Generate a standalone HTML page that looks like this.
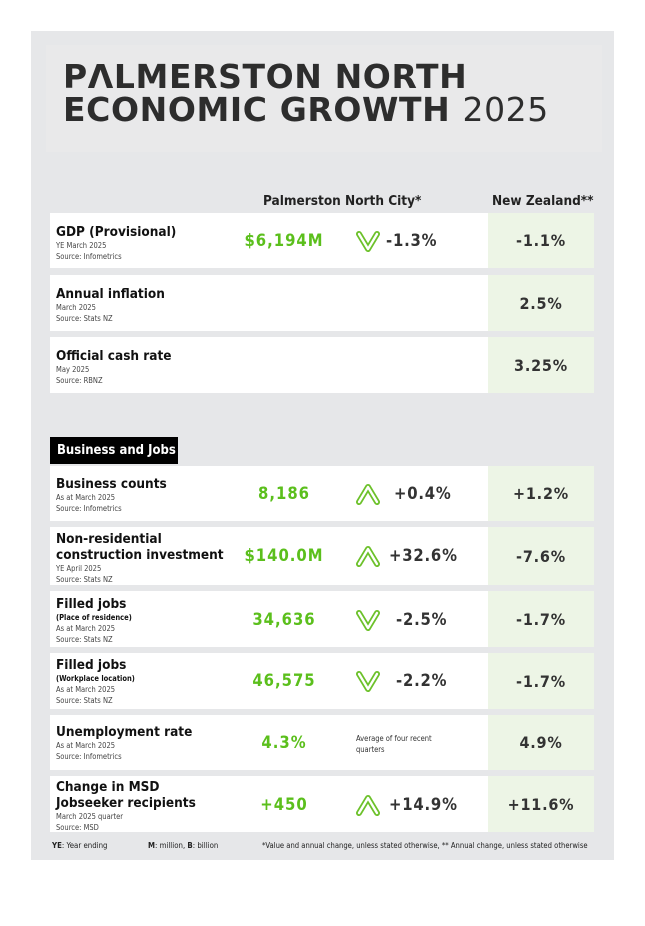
<!DOCTYPE html>
<html><head><meta charset="utf-8"><style>
*{margin:0;padding:0;box-sizing:border-box}
body{width:645px;height:926px;background:#fff;font-family:"DejaVu Sans Condensed","Liberation Sans",sans-serif;position:relative;overflow:hidden;color:#222}
.panel{position:absolute;left:31px;top:31px;width:583px;height:829px;background:#e6e7e9}
.hdr{position:absolute;left:46px;top:45px;width:556px;height:107px;background:#e9e9ea}
.t{position:absolute;left:63px;font-family:"DejaVu Sans","Liberation Sans",sans-serif;font-weight:bold;font-size:33px;color:#2d2d2d;letter-spacing:0.6px;line-height:34px;white-space:nowrap}
.abs{position:absolute}
.row{position:absolute;left:50px;width:438px;background:#fff}
.nz{position:absolute;left:488px;width:106px;background:#edf5e6;display:flex;align-items:center;justify-content:center;font-weight:bold;font-size:16px;color:#333;letter-spacing:0.8px}
.lbl{position:absolute;left:56px;font-size:13.5px;font-weight:bold;color:#111;line-height:16px}
.sm{font-size:7.5px;font-weight:normal;color:#444;line-height:11px;letter-spacing:0}
.val{position:absolute;width:140px;left:214px;text-align:center;color:#5bbf1c;font-weight:bold;font-size:16.5px;letter-spacing:1px}
.chg{position:absolute;font-weight:bold;font-size:16.5px;color:#333;letter-spacing:0.8px}
svg.ic{position:absolute;width:26px;height:26px}
</style></head><body>
<div class="panel"></div>
<div class="hdr"></div>
<div class="t" style="top:60px">P&Lambda;LMERSTON NORTH</div>
<div class="t" style="top:93px">ECONOMIC GROWTH <span style="font-weight:normal">2025</span></div>

<div class="abs" style="left:263px;top:193px;font-size:13.5px;font-weight:bold">Palmerston North City*</div>
<div class="abs" style="left:492px;top:193px;font-size:13.5px;font-weight:bold">New Zealand**</div>

<div class="row" style="top:213px;height:55px"></div><div class="nz" style="top:213px;height:55px">-1.1%</div>
<div class="lbl" style="top:224px">GDP (Provisional)<div class="sm">YE March 2025<br>Source: Infometrics</div></div>
<div class="val" style="top:231px">$6,194M</div>
<svg class="ic" style="left:355px;top:228px" viewBox="0 0 26 26"><path d="M4 6 L13 21 L22 6" fill="none" stroke="#6cc12a" stroke-width="6" stroke-linecap="round" stroke-linejoin="round"/><path d="M4 6 L13 21 L22 6" fill="none" stroke="#fff" stroke-width="2.4" stroke-linecap="round" stroke-linejoin="round"/></svg>
<div class="chg" style="left:386px;top:231px">-1.3%</div>

<div class="row" style="top:275px;height:56px"></div><div class="nz" style="top:275px;height:56px">2.5%</div>
<div class="lbl" style="top:286px">Annual inflation<div class="sm">March 2025<br>Source: Stats NZ</div></div>

<div class="row" style="top:337px;height:56px"></div><div class="nz" style="top:337px;height:56px">3.25%</div>
<div class="lbl" style="top:348px">Official cash rate<div class="sm">May 2025<br>Source: RBNZ</div></div>

<div class="abs" style="left:50px;top:437px;width:128px;height:27px;background:#000;color:#fff;font-size:13px;font-weight:bold;padding:6px 0 0 7px;white-space:nowrap">Business and Jobs</div>

<div class="row" style="top:466px;height:55px"></div><div class="nz" style="top:466px;height:55px">+1.2%</div>
<div class="lbl" style="top:476px">Business counts<div class="sm">As at March 2025<br>Source: Infometrics</div></div>
<div class="val" style="top:484px">8,186</div>
<svg class="ic" style="left:355px;top:481px" viewBox="0 0 26 26"><path d="M4 21 L13 6 L22 21" fill="none" stroke="#6cc12a" stroke-width="6" stroke-linecap="round" stroke-linejoin="round"/><path d="M4 21 L13 6 L22 21" fill="none" stroke="#fff" stroke-width="2.4" stroke-linecap="round" stroke-linejoin="round"/></svg>
<div class="chg" style="left:394px;top:484px">+0.4%</div>

<div class="row" style="top:527px;height:58px"></div><div class="nz" style="top:527px;height:58px">-7.6%</div>
<div class="lbl" style="top:531px">Non-residential<br>construction investment<div class="sm">YE April 2025<br>Source: Stats NZ</div></div>
<div class="val" style="top:546px">$140.0M</div>
<svg class="ic" style="left:355px;top:543px" viewBox="0 0 26 26"><path d="M4 21 L13 6 L22 21" fill="none" stroke="#6cc12a" stroke-width="6" stroke-linecap="round" stroke-linejoin="round"/><path d="M4 21 L13 6 L22 21" fill="none" stroke="#fff" stroke-width="2.4" stroke-linecap="round" stroke-linejoin="round"/></svg>
<div class="chg" style="left:389px;top:546px">+32.6%</div>

<div class="row" style="top:591px;height:56px"></div><div class="nz" style="top:591px;height:56px">-1.7%</div>
<div class="lbl" style="top:596px">Filled jobs<div class="sm" style="font-weight:bold;color:#111">(Place of residence)</div><div class="sm">As at March 2025<br>Source: Stats NZ</div></div>
<div class="val" style="top:610px">34,636</div>
<svg class="ic" style="left:355px;top:607px" viewBox="0 0 26 26"><path d="M4 6 L13 21 L22 6" fill="none" stroke="#6cc12a" stroke-width="6" stroke-linecap="round" stroke-linejoin="round"/><path d="M4 6 L13 21 L22 6" fill="none" stroke="#fff" stroke-width="2.4" stroke-linecap="round" stroke-linejoin="round"/></svg>
<div class="chg" style="left:396px;top:610px">-2.5%</div>

<div class="row" style="top:653px;height:56px"></div><div class="nz" style="top:653px;height:56px">-1.7%</div>
<div class="lbl" style="top:657px">Filled jobs<div class="sm" style="font-weight:bold;color:#111">(Workplace location)</div><div class="sm">As at March 2025<br>Source: Stats NZ</div></div>
<div class="val" style="top:671px">46,575</div>
<svg class="ic" style="left:355px;top:668px" viewBox="0 0 26 26"><path d="M4 6 L13 21 L22 6" fill="none" stroke="#6cc12a" stroke-width="6" stroke-linecap="round" stroke-linejoin="round"/><path d="M4 6 L13 21 L22 6" fill="none" stroke="#fff" stroke-width="2.4" stroke-linecap="round" stroke-linejoin="round"/></svg>
<div class="chg" style="left:396px;top:671px">-2.2%</div>

<div class="row" style="top:715px;height:55px"></div><div class="nz" style="top:715px;height:55px">4.9%</div>
<div class="lbl" style="top:724px">Unemployment rate<div class="sm">As at March 2025<br>Source: Infometrics</div></div>
<div class="val" style="top:733px">4.3%</div>
<div class="abs" style="left:356px;top:733px;font-size:7.5px;color:#333;line-height:11px">Average of four recent<br>quarters</div>

<div class="row" style="top:776px;height:56px"></div><div class="nz" style="top:776px;height:56px">+11.6%</div>
<div class="lbl" style="top:779px">Change in MSD<br>Jobseeker recipients<div class="sm">March 2025 quarter<br>Source: MSD</div></div>
<div class="val" style="top:795px">+450</div>
<svg class="ic" style="left:355px;top:792px" viewBox="0 0 26 26"><path d="M4 21 L13 6 L22 21" fill="none" stroke="#6cc12a" stroke-width="6" stroke-linecap="round" stroke-linejoin="round"/><path d="M4 21 L13 6 L22 21" fill="none" stroke="#fff" stroke-width="2.4" stroke-linecap="round" stroke-linejoin="round"/></svg>
<div class="chg" style="left:389px;top:795px">+14.9%</div>

<div class="abs" style="left:52px;top:841px;font-size:7.8px;color:#222"><b>YE</b>: Year ending</div>
<div class="abs" style="left:148px;top:841px;font-size:7.8px;color:#222"><b>M</b>: million, <b>B</b>: billion</div>
<div class="abs" style="left:262px;top:841px;font-size:7.6px;color:#222;white-space:nowrap">*Value and annual change, unless stated otherwise, ** Annual change, unless stated otherwise</div>
</body></html>
